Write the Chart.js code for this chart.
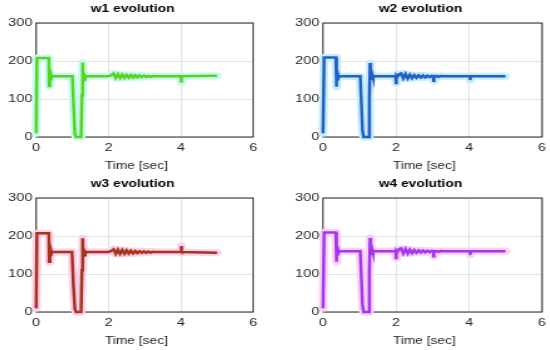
<!DOCTYPE html>
<html><head><meta charset="utf-8">
<script src="https://cdn.jsdelivr.net/npm/chart.js@4"></script>
<style>
html,body{margin:0;padding:0;background:#fff;}
body{width:550px;height:350px;position:relative;overflow:hidden;}
.p{position:absolute;height:175px;transform:scaleX(1.25);transform-origin:0 0;}
.p canvas{display:block;}
</style></head><body>
<div class="p" id="p0"><canvas id="c0"></canvas></div>
<div class="p" id="p1"><canvas id="c1"></canvas></div>
<div class="p" id="p2"><canvas id="c2"></canvas></div>
<div class="p" id="p3"><canvas id="c3"></canvas></div>
<script>
// ---- data ----
const xTicks = [0, 2, 4, 6];
const yTicks = [0, 100, 200, 300];
const titles = ['w1 evolution', 'w2 evolution', 'w3 evolution', 'w4 evolution'];
const xLabel = 'Time [sec]';

const t1 = [0, 0.02, 0.35, 0.36, 0.38, 0.395, 0.41, 0.43, 0.46, 1.0, 1.04, 1.07, 1.1, 1.24, 1.265, 1.285, 1.30, 1.315, 1.33, 1.345, 1.36, 1.40, 2.0, 2.08, 2.14, 2.2, 2.26, 2.32, 2.38, 2.44, 2.5, 2.56, 2.62, 2.68, 2.74, 2.8, 2.86, 2.92, 2.98, 3.04, 3.1, 3.16, 3.22, 3.3, 4.0, 4.005, 4.015, 4.03, 5.0];
const w1 = [10, 208, 208, 134, 168, 152, 164, 157, 160, 160, 70, 8, 0, 0, 110, 196, 150, 168, 152, 164, 157, 160, 160, 163, 167, 155, 165, 155, 164, 155.5, 163.5, 156, 163, 156.5, 162.5, 157, 162, 157.5, 161.5, 158, 161, 158.5, 160.5, 160, 160, 143, 161, 160, 161];

const t2 = [0, 0.03, 0.35, 0.36, 0.38, 0.395, 0.41, 0.43, 0.46, 1.02, 1.08, 1.11, 1.25, 1.27, 1.29, 1.305, 1.32, 1.335, 1.35, 1.37, 1.41, 1.99, 2.0, 2.01, 2.03, 2.08, 2.14, 2.2, 2.26, 2.32, 2.38, 2.44, 2.5, 2.56, 2.62, 2.68, 2.74, 2.8, 2.86, 2.92, 2.98, 3.02, 3.03, 3.04, 3.1, 3.16, 3.22, 3.3, 4.02, 4.03, 4.04, 5.0];
const w2 = [10, 209, 209, 132, 168, 152, 164, 157, 160, 160, 20, 0, 0, 100, 195, 150, 168, 152, 164, 157, 160, 160, 142, 160, 157, 165, 167, 154, 166, 154, 164, 155, 163, 156, 162.5, 156.5, 162, 157, 161.5, 157.5, 161, 159, 148, 160, 160.5, 158.5, 160.5, 160, 160, 150, 160, 160];

const t3 = [0, 0.02, 0.35, 0.36, 0.38, 0.395, 0.41, 0.43, 0.46, 0.99, 1.03, 1.07, 1.1, 1.24, 1.265, 1.285, 1.30, 1.315, 1.33, 1.345, 1.36, 1.40, 2.0, 2.08, 2.14, 2.2, 2.26, 2.32, 2.38, 2.44, 2.5, 2.56, 2.62, 2.68, 2.74, 2.8, 2.86, 2.92, 2.98, 3.04, 3.1, 3.16, 3.22, 3.3, 4.0, 4.005, 4.015, 4.03, 5.0];
const w3 = [10, 207, 207, 132, 166, 150, 162, 155, 158, 158, 68, 8, 0, 0, 110, 194, 148, 166, 150, 162, 155, 158, 158, 161, 165, 153, 164, 153, 163, 153.5, 162, 154, 161, 154.5, 160.5, 155, 160, 155.5, 159.5, 156, 159, 156.5, 158.5, 158, 158, 174, 157, 158, 156];

const t4 = [0, 0.03, 0.35, 0.36, 0.38, 0.395, 0.41, 0.43, 0.46, 1.02, 1.08, 1.11, 1.25, 1.27, 1.29, 1.305, 1.32, 1.335, 1.35, 1.37, 1.41, 1.99, 2.0, 2.01, 2.03, 2.08, 2.14, 2.2, 2.26, 2.32, 2.38, 2.44, 2.5, 2.56, 2.62, 2.68, 2.74, 2.8, 2.86, 2.92, 2.98, 3.02, 3.03, 3.04, 3.1, 3.16, 3.22, 3.3, 4.02, 4.03, 4.04, 5.0];
const w4 = [10, 209, 209, 132, 168, 152, 164, 157, 160, 160, 20, 0, 0, 100, 195, 150, 168, 152, 164, 157, 160, 160, 142, 160, 157, 165, 167, 154, 166, 154, 164, 155, 163, 156, 162.5, 156.5, 162, 157, 161.5, 157.5, 161, 159, 147, 160, 160.5, 158.5, 160.5, 160, 160, 150, 160, 160];

const times = [t1, t2, t3, t4];
const series = [w1, w2, w3, w4];
const lineColors = ['#55d51f', '#2160c4', '#a8321a', '#a437ee'];
const haloColors = ['#c8f8ee', '#c4ecfc', '#fbd0ec', '#fad0f8'];

// ---- layout (page geometry) ----
const panels = [
  {left: 0,   top: 0,   W: 209.6},
  {left: 287, top: 0,   W: 212},
  {left: 0,   top: 175, W: 209.6},
  {left: 287, top: 175, W: 212}
];
const yAxisW = 28.8, padR = 8;
const titleShift = 4.8, xLabelShift = 7.8;

const boxPlugin = {
  id: 'box',
  afterLayout(c) {
    c.boxes.forEach(b => {
      if (b.axis) return;
      if (!b.options || b.options.text === undefined) return;
      const dx = b.options.position === 'bottom' ? xLabelShift : titleShift;
      b.left += dx; b.right += dx;
    });
  },
  beforeDatasetsDraw(c) {
    const a = c.chartArea, x = c.ctx;
    x.save();
    x.strokeStyle = '#262626';
    x.lineWidth = 1;
    x.strokeRect(a.left, a.top, a.right - a.left, a.bottom - a.top);
    x.restore();
  }
};

const font = 'Liberation Sans, Arial, Helvetica, sans-serif';

panels.forEach((p, i) => {
  const div = document.getElementById('p' + i);
  div.style.left = p.left + 'px';
  div.style.top = p.top + 'px';
  div.style.width = p.W + 'px';
  const pts = times[i].map((t, k) => ({x: t, y: series[i][k]}));
  new Chart(document.getElementById('c' + i), {
    type: 'line',
    data: {
      datasets: [
        {data: pts, borderColor: lineColors[i], borderWidth: 2.5, pointRadius: 0, tension: 0, clip: 6, order: 1},
        {data: pts, borderColor: haloColors[i], borderWidth: 7, borderJoinStyle: 'round', borderCapStyle: 'round', pointRadius: 0, tension: 0, clip: 6, order: 2}
      ]
    },
    options: {
      responsive: true,
      maintainAspectRatio: false,
      animation: false,
      events: [],
      layout: {padding: {left: 0, right: padR, top: 0, bottom: 0}},
      plugins: {
        legend: {display: false},
        tooltip: {enabled: false},
        title: {display: true, text: titles[i], color: '#000', font: {family: font, size: 11, weight: 'bold', lineHeight: 1.2}, padding: {top: 2, bottom: 7.8}},
        subtitle: {display: true, position: 'bottom', text: xLabel, color: '#262626', font: {family: font, size: 11, weight: 'normal', lineHeight: 1.2}, padding: {top: 3, bottom: 2.2}}
      },
      scales: {
        x: {
          type: 'linear', min: 0, max: 6,
          afterBuildTicks: s => { s.ticks = xTicks.map(v => ({value: v})); },
          afterFit: s => { s.height = 19.6; },
          grid: {color: '#e3e3e3', drawTicks: false},
          border: {display: false},
          ticks: {color: '#262626', padding: 4, font: {family: font, size: 11.5}, maxRotation: 0}
        },
        y: {
          type: 'linear', min: 0, max: 300,
          afterBuildTicks: s => { s.ticks = yTicks.map(v => ({value: v})); },
          afterFit: s => { s.width = yAxisW; },
          grid: {color: '#e3e3e3', drawTicks: false},
          border: {display: false},
          ticks: {color: '#262626', padding: 3, font: {family: font, size: 11.5}}
        }
      }
    },
    plugins: [boxPlugin]
  });
});
</script>
</body></html>
